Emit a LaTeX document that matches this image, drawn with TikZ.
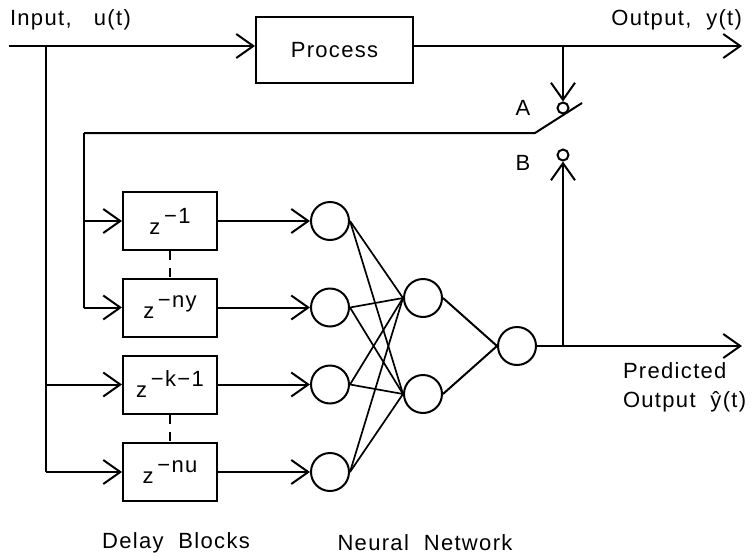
\documentclass[tikz,border=0pt]{standalone}
\usepackage{fontspec}
\setmainfont{Liberation Sans}[LetterSpace=6]
\usetikzlibrary{arrows.meta}
\begin{document}
\begin{tikzpicture}[x=1pt,y=-1pt,line width=2pt,
  font=\fontsize{22}{26}\selectfont,
  arr/.style={-{Straight Barb[length=17pt,width=24pt,line width=2pt]}},
  blk/.style={draw,minimum width=94pt,minimum height=58pt,inner sep=0pt},
  neuron/.style={draw,circle,minimum size=38pt,inner sep=0pt},
  contact/.style={draw,circle,minimum size=11pt,inner sep=0pt},
  lbl/.style={inner sep=0pt},
  gap/.style={dash pattern=on 9pt off 8pt}]
\useasboundingbox (0,0) rectangle (753,555);
% top path
\coordinate (in) at (9,46);
\coordinate (tap) at (46,46);
\coordinate (yend) at (742,46);
\coordinate (ytap) at (563,46);
\node[draw,minimum width=157pt,minimum height=66pt,inner sep=0pt] (proc) at (334.5,50) {Process};
\node[lbl,anchor=west] (inlbl) at (9,20) {Input,\ \ \ u(t)};
\node[lbl,anchor=east] (outlbl) at (743,20) {Output,\ \ y(t)};
\draw[arr] (in) -- (in -| proc.west);
\draw[arr] (proc.east |- yend) -- (yend);
% switch
\node[contact] (A) at (563,108) {};
\node[contact] (B) at (563,155) {};
\node[lbl] (Alab) at (523,108) {A};
\node[lbl] (Blab) at (523,163) {B};
\draw[arr] (ytap) -- (A.north);
\coordinate (sw1) at (535,133);
\coordinate (sw2) at (582,103);
\coordinate (fb) at (84,133);
\draw (sw2) -- (sw1) -- (fb);
% delay blocks
\node[blk] (d1) at (170,221) {z\,\raisebox{11pt}{−1}};
\node[blk] (d2) at (170,307.5) {z\,\raisebox{11pt}{−ny}};
\node[blk] (d3) at (170,384.5) {z\,\raisebox{11pt}{−k−1}};
\node[blk] (d4) at (170,472) {z\,\raisebox{11pt}{−nu}};
\draw[gap] (d1.south) -- (d2.north);
\draw[gap] (d3.south) -- (d4.north);
% feedback feed
\draw (fb) -- (fb |- d2.west);
\draw[arr] (fb |- d2.west) -- (d2.west);
\draw[arr] (fb |- d1.west) -- (d1.west);
% input feed
\draw (tap) -- (tap |- d4.west);
\draw[arr] (tap |- d4.west) -- (d4.west);
\draw[arr] (tap |- d3.west) -- (d3.west);
% neurons
\node[neuron] (i1) at (330,221) {};
\node[neuron] (i2) at (330,307.5) {};
\node[neuron] (i3) at (330,384.5) {};
\node[neuron] (i4) at (330,472) {};
\node[neuron] (h1) at (423,298) {};
\node[neuron] (h2) at (423,394) {};
\node[neuron] (o) at (517,346) {};
\foreach \k in {1,2,3,4}{\draw[arr] (d\k.east) -- (i\k.west);}
\foreach \k in {1,2,3,4}{\foreach \h in {1,2}{\draw[line width=1.7pt] (i\k.east) -- (h\h.west);}}
\draw (h1.east) -- (o.west);
\draw (h2.east) -- (o.west);
% output
\coordinate (pend) at (742,346);
\coordinate (ptap) at (563,346);
\draw[arr] (o.east) -- (pend);
\draw[arr] (ptap) -- (B.south);
\node[lbl,anchor=west,align=left] (plbl) at (622,387) {Predicted\\[3pt]Output\ \ ŷ(t)};
\node[lbl] (dlbl) at (176,543) {Delay\ \ Blocks};
\node[lbl] (nlbl) at (425,543) {Neural\ \ Network};
\end{tikzpicture}
\end{document}
